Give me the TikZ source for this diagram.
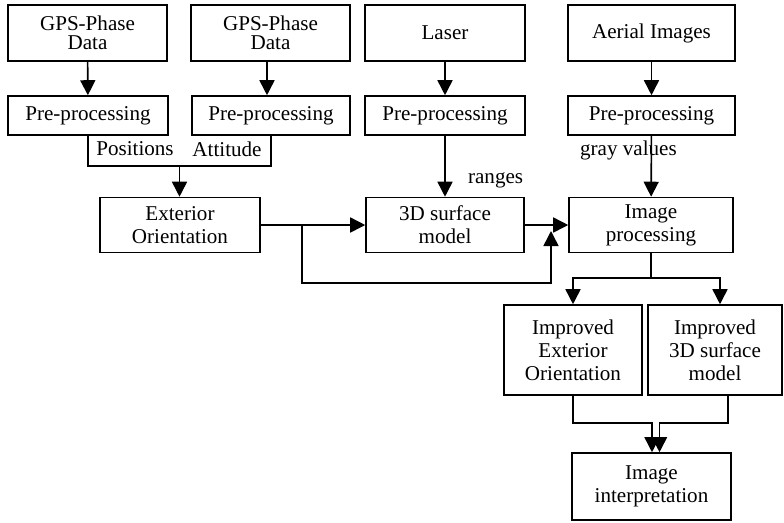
\documentclass[tikz,border=0pt]{standalone}
\usepackage{fontspec}
\setmainfont{Liberation Serif}
\usepackage{tikz}
\usetikzlibrary{arrows.meta,calc,positioning}

\tikzset{
	box/.style={draw,rectangle,align=center,inner sep=1pt,line width=0.9pt},
	tight/.style={font=\fontsize{12}{10.5}\selectfont},
	arr/.style={-{Triangle[length=0.3cm,width=0.3cm]},line width=0.9pt},
	lbl/.style={inner sep=1pt}
}

\begin{document}
\begin{tikzpicture}[x=0.02cm,y=-0.02cm,font=\fontsize{12}{13}\selectfont]
	\useasboundingbox (0,0) rectangle (784,522);
	% input row
	\node[box,tight,minimum width=3.18cm,minimum height=1.12cm] (gpsa) at (87.5,33) {GPS-Phase\\Data};
	\node[box,tight,minimum width=3.18cm,minimum height=1.12cm] (gpsb) at (270.5,33) {GPS-Phase\\Data};
	\node[box,minimum width=3.2cm,minimum height=1.12cm] (laser) at (445,33) {Laser};
	\node[box,minimum width=3.34cm,minimum height=1.12cm] (aerial) at (651.5,33) {Aerial Images};
	% pre-processing row
	\node[box,minimum width=3.2cm,minimum height=0.78cm] (prea) at (88,115.5) {Pre-processing};
	\node[box,minimum width=3.16cm,minimum height=0.78cm] (preb) at (271,115.5) {Pre-processing};
	\node[box,minimum width=3.2cm,minimum height=0.78cm] (prec) at (445,115.5) {Pre-processing};
	\node[box,minimum width=3.34cm,minimum height=0.78cm] (pred) at (651.5,115.5) {Pre-processing};
	\node[lbl] (pos) at (135,149) {Positions};
	\node[lbl] (att) at (227,149) {Attitude};
	\node[lbl,anchor=west] (rng) at (466,180) {ranges};
	\node[lbl,anchor=west] (gray) at (578,150) {gray values};
	% middle row
	\node[box,minimum width=3.2cm,minimum height=1.1cm] (ext) at (180,225) {Exterior\\Orientation};
	\node[box,minimum width=3.16cm,minimum height=1.1cm] (surf) at (445,225) {3D surface\\model};
	\node[box,minimum width=3.28cm,minimum height=1.1cm] (improc) at (651,225) {Image\\processing};
	% improved results
	\node[box,minimum width=2.76cm,minimum height=1.8cm] (impext) at (573,350) {Improved\\Exterior\\Orientation};
	\node[box,minimum width=2.68cm,minimum height=1.8cm] (impsurf) at (715,350) {Improved\\3D surface\\model};
	\node[box,minimum width=3.18cm,minimum height=1.34cm] (interp) at (651.5,486.5) {Image\\interpretation};

	\draw[arr] (gpsa) -- (prea);
	\draw[arr] (gpsb.south -| 267,0) -- (preb.north -| 267,0);
	\draw[arr] (laser) -- (prec);
	\draw[arr] (aerial) -- (pred);
	\draw[line width=0.9pt] (prea.south) -- ++(0,30) -| (preb.south);
	\coordinate (brk) at ($(prea.south)!0.5!(preb.south)+(0,30)$);
	\draw[arr] (brk) -- (brk |- ext.north);
	\draw[arr] (prec) -- (surf);
	\draw[arr] (pred) -- (improc);
	\draw[arr] (ext) -- (surf);
	\draw[arr] (surf) -- (improc);
	\coordinate (br) at (302,225);
	\coordinate (loopbot) at (551,283);
	\coordinate (looptip) at (551,231);
	\draw[arr] (br) |- (loopbot) -- (looptip);
	\coordinate (split) at (improc.south |- 0,278);
	\draw[line width=0.9pt] (improc) -- (split);
	\draw[arr] (split) -| (impext.north);
	\draw[arr] (split) -| (impsurf.north -| 720,0);
	\coordinate (ina) at ([xshift=0.01cm]interp.north);
	\coordinate (inb) at ([xshift=0.16cm]interp.north);
	\draw[arr] (impext.south) -- ++(0,27) -| (ina);
	\draw[arr] (impsurf.south -| 728,0) -- ++(0,27) -| (inb);
\end{tikzpicture}
\end{document}
